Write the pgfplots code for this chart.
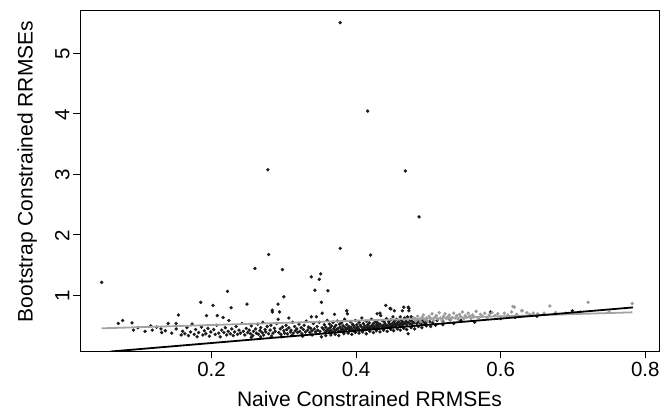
\documentclass[border=0pt]{standalone}
\usepackage{pgfplots}
\pgfplotsset{compat=1.18}
\usepackage{pgfplotstable}
\usepackage{fontspec}
\setmainfont{Liberation Sans}

\definecolor{ptblack}{HTML}{1A1A1A}
\definecolor{ptgray}{HTML}{9A9A9A}
\definecolor{lngray}{HTML}{A3A3A3}

% bootstrap vs naive RRMSEs
\pgfplotstableread{
x y
0.048 1.21
0.071 0.53
0.077 0.58
0.090 0.54
0.092 0.42
0.098 0.46
0.108 0.40
0.116 0.49
0.118 0.42
0.124 0.47
0.130 0.44
0.131 0.38
0.136 0.41
0.140 0.53
0.145 0.37
0.151 0.53
0.151 0.44
0.154 0.67
0.158 0.34
0.160 0.40
0.163 0.36
0.166 0.46
0.168 0.33
0.171 0.39
0.173 0.52
0.176 0.35
0.178 0.43
0.180 0.31
0.182 0.38
0.185 0.88
0.186 0.47
0.188 0.34
0.190 0.41
0.192 0.36
0.193 0.66
0.195 0.45
0.197 0.32
0.199 0.39
0.202 0.83
0.203 0.43
0.205 0.35
0.207 0.50
0.208 0.66
0.210 0.37
0.212 0.31
0.214 0.42
0.216 0.63
0.217 0.38
0.219 0.46
0.221 0.34
0.222 1.06
0.223 0.40
0.224 0.58
0.226 0.36
0.227 0.79
0.228 0.44
0.230 0.33
0.232 0.39
0.234 0.48
0.236 0.35
0.238 0.42
0.240 0.37
0.242 0.53
0.244 0.40
0.246 0.34
0.248 0.45
0.249 0.85
0.250 0.38
0.252 0.42
0.254 0.36
0.255 0.49
0.255 0.30
0.257 0.33
0.258 0.40
0.260 1.44
0.261 0.44
0.262 0.37
0.264 0.52
0.265 0.35
0.267 0.41
0.268 0.46
0.268 0.31
0.270 0.38
0.271 0.55
0.272 0.34
0.274 0.43
0.275 0.39
0.277 0.48
0.278 3.07
0.279 1.67
0.279 0.36
0.281 0.42
0.282 0.50
0.283 0.32
0.284 0.75
0.284 0.72
0.285 0.37
0.287 0.45
0.288 0.40
0.290 0.53
0.292 0.85
0.292 0.60
0.293 0.38
0.294 0.72
0.295 0.44
0.296 0.35
0.297 0.31
0.298 1.42
0.298 0.47
0.300 0.97
0.300 0.41
0.301 0.37
0.303 0.50
0.304 0.43
0.305 0.36
0.307 0.62
0.307 0.46
0.309 0.39
0.310 0.42
0.311 0.33
0.312 0.55
0.313 0.37
0.315 0.48
0.316 0.41
0.318 0.44
0.319 0.38
0.321 0.52
0.322 0.40
0.324 0.46
0.325 0.36
0.326 0.32
0.327 0.43
0.328 0.50
0.330 0.39
0.331 0.57
0.333 0.42
0.334 0.47
0.336 0.38
0.337 0.45
0.338 1.30
0.338 0.64
0.339 0.41
0.339 0.34
0.341 0.53
0.342 0.44
0.343 1.08
0.344 0.39
0.345 0.64
0.346 0.48
0.347 0.42
0.349 1.26
0.349 0.55
0.350 0.40
0.351 1.35
0.352 0.88
0.352 0.31
0.353 0.70
0.353 0.46
0.355 0.43
0.356 0.51
0.357 0.38
0.358 0.47
0.358 0.33
0.359 0.41
0.360 0.58
0.361 1.07
0.361 0.44
0.362 0.40
0.363 0.52
0.364 0.46
0.365 0.42
0.365 0.34
0.366 0.49
0.367 0.39
0.368 0.55
0.369 0.44
0.370 0.68
0.370 0.47
0.371 0.41
0.371 0.35
0.372 0.50
0.373 0.43
0.374 0.57
0.375 0.45
0.376 0.40
0.376 0.33
0.377 0.52
0.378 5.50
0.378 1.77
0.378 0.47
0.379 0.42
0.380 0.54
0.381 0.44
0.382 0.49
0.383 0.41
0.383 0.36
0.384 0.60
0.385 0.46
0.386 0.43
0.387 0.74
0.387 0.51
0.388 0.69
0.389 0.45
0.389 0.37
0.390 0.48
0.391 0.42
0.392 0.56
0.393 0.47
0.394 0.44
0.394 0.35
0.395 0.52
0.396 0.41
0.397 0.49
0.398 0.46
0.399 0.58
0.399 0.38
0.400 0.43
0.401 0.51
0.402 0.47
0.403 0.45
0.404 0.55
0.404 0.37
0.405 0.42
0.406 0.50
0.407 0.48
0.408 0.62
0.409 0.44
0.409 0.39
0.410 0.53
0.411 0.46
0.412 0.49
0.413 0.43
0.414 0.57
0.414 0.36
0.415 0.47
0.416 4.04
0.416 0.51
0.417 0.45
0.418 0.54
0.419 0.48
0.419 0.40
0.420 1.66
0.420 0.44
0.421 0.60
0.422 0.50
0.423 0.46
0.424 0.53
0.424 0.38
0.425 0.48
0.426 0.45
0.427 0.56
0.428 0.51
0.428 0.41
0.429 0.69
0.429 0.47
0.430 0.54
0.431 0.49
0.432 0.45
0.433 0.70
0.433 0.52
0.433 0.39
0.434 0.66
0.435 0.48
0.436 0.58
0.437 0.50
0.438 0.46
0.438 0.42
0.439 0.55
0.440 0.52
0.441 0.83
0.441 0.48
0.442 0.61
0.443 0.50
0.443 0.40
0.444 0.47
0.445 0.56
0.446 0.53
0.447 0.78
0.447 0.49
0.448 0.77
0.448 0.59
0.448 0.43
0.449 0.51
0.450 0.48
0.451 0.64
0.451 0.54
0.452 0.50
0.452 0.41
0.453 0.74
0.453 0.57
0.454 0.52
0.455 0.49
0.456 0.60
0.457 0.54
0.457 0.44
0.458 0.51
0.459 0.56
0.460 0.50
0.461 0.64
0.461 0.42
0.462 0.53
0.463 0.58
0.464 0.74
0.464 0.51
0.465 0.55
0.466 0.80
0.466 0.52
0.466 0.45
0.467 0.62
0.468 3.05
0.468 0.54
0.469 0.57
0.470 0.51
0.470 0.43
0.471 0.64
0.472 0.80
0.472 0.36
0.472 0.55
0.473 0.78
0.473 0.74
0.474 0.53
0.475 0.58
0.476 0.64
0.476 0.46
0.477 0.52
0.478 0.56
0.480 0.54
0.481 0.44
0.482 0.60
0.484 0.53
0.486 0.57
0.486 0.48
0.487 2.29
0.488 0.55
0.490 0.52
0.491 0.46
0.492 0.58
0.494 0.55
0.496 0.53
0.497 0.49
0.498 0.57
0.502 0.56
0.503 0.48
0.506 0.54
0.510 0.50
0.512 0.58
0.520 0.57
0.520 0.51
0.530 0.59
0.535 0.53
0.545 0.58
0.564 0.55
0.586 0.72
0.600 0.61
0.620 0.63
0.650 0.65
0.699 0.74
}\blackpts

\pgfplotstableread{
x y
0.480 0.62
0.483 0.58
0.485 0.65
0.487 0.60
0.489 0.56
0.491 0.63
0.493 0.67
0.495 0.59
0.497 0.62
0.499 0.57
0.501 0.65
0.503 0.61
0.505 0.69
0.507 0.58
0.509 0.63
0.511 0.66
0.513 0.60
0.515 0.71
0.517 0.62
0.519 0.58
0.521 0.65
0.523 0.69
0.525 0.61
0.527 0.64
0.529 0.67
0.531 0.59
0.533 0.63
0.535 0.70
0.537 0.62
0.539 0.66
0.541 0.60
0.543 0.68
0.545 0.64
0.547 0.72
0.549 0.61
0.551 0.66
0.553 0.63
0.555 0.70
0.557 0.65
0.559 0.61
0.561 0.67
0.563 0.64
0.566 0.73
0.569 0.62
0.572 0.68
0.575 0.65
0.578 0.70
0.581 0.63
0.584 0.67
0.588 0.71
0.592 0.66
0.596 0.69
0.600 0.64
0.605 0.70
0.610 0.67
0.615 0.72
0.617 0.81
0.619 0.80
0.622 0.68
0.629 0.74
0.630 0.74
0.636 0.71
0.640 0.68
0.645 0.70
0.651 0.69
0.660 0.70
0.668 0.82
0.676 0.71
0.690 0.70
0.710 0.72
0.721 0.88
0.750 0.72
0.782 0.86
}\graypts

\begin{document}
\begin{tikzpicture}
\begin{axis}[
    at={(0pt,0pt)}, anchor=south west,
    scale only axis,
    width=579pt, height=341pt,
    xmin=0.018, xmax=0.819,
    ymin=0.075, ymax=5.71,
    xtick={0.2,0.4,0.6,0.8},
    ytick={1,2,3,4,5},
    xticklabels={0.2,0.4,0.6,0.8},
    tick align=outside,
    xtick pos=bottom, ytick pos=left,
    major tick length=7pt,
    tick style={black, line width=0.8pt},
    axis line style={line width=0.9pt},
    ticklabel style={font=\fontsize{20.5}{24}\selectfont},
    /pgf/number format/assume math mode=true,
    yticklabel style={rotate=90, anchor=south, xshift=-1pt},
    xticklabel style={yshift=-1pt},
    xlabel={Naive Constrained RRMSEs},
    ylabel={Bootstrap Constrained RRMSEs},
    label style={font=\fontsize{21}{25}\selectfont},
    xlabel style={yshift=-7pt},
    ylabel style={yshift=11pt, xshift=9pt},
    clip mode=individual,
]
\addplot[only marks, mark=*, mark size=1.5pt, color=ptblack] table[x=x, y=y] {\blackpts};
\addplot[only marks, mark=*, mark size=1.5pt, color=ptgray] table[x=x, y=y] {\graypts};
\addplot[lngray, line width=1.8pt] coordinates {(0.048,0.45) (0.782,0.714)};
\addplot[black, line width=1.8pt] coordinates {(0.060,0.066) (0.783,0.795)};
\end{axis}
\pgfresetboundingbox
\path[use as bounding box] (-80pt,-62pt) rectangle (588pt,351pt);
\end{tikzpicture}
\end{document}
